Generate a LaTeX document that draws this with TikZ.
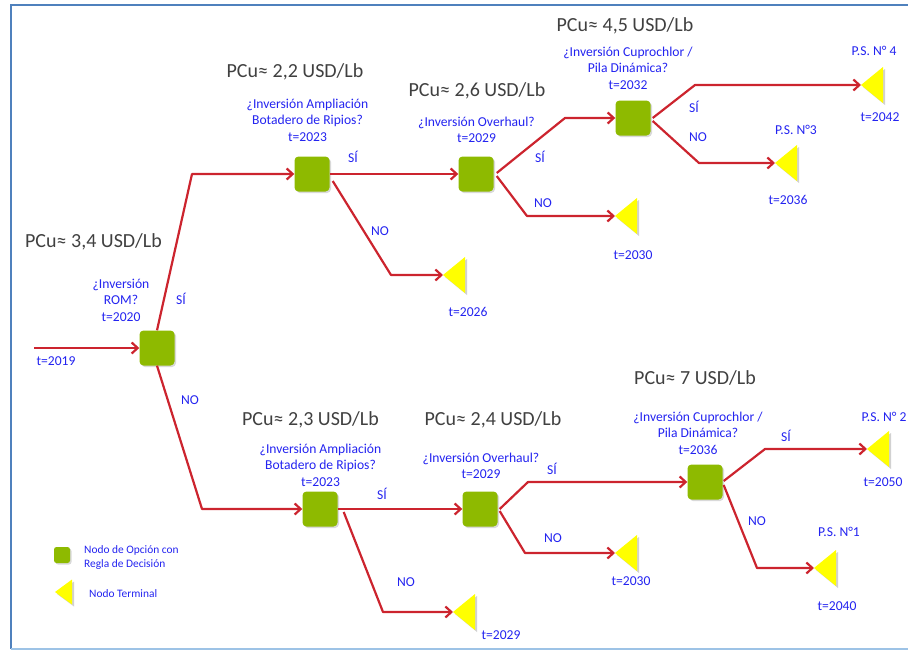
\documentclass[tikz,border=0pt]{standalone}
\usepackage{fontspec}
\setmainfont{Carlito}
\usetikzlibrary{arrows.meta,shadows,calc}
\definecolor{optgreen}{RGB}{142,186,0}
\definecolor{conred}{RGB}{204,36,46}
\definecolor{lblblue}{RGB}{35,35,240}
\definecolor{pcugray}{RGB}{64,64,64}
\definecolor{framebl}{RGB}{79,129,189}
\definecolor{framelt}{RGB}{157,195,230}
\definecolor{termyel}{RGB}{255,255,0}
\newcommand\termnode[5]{%
  \coordinate (#1) at (#2,#3);
  \fill[black,opacity=0.18] ($(#1)+(2,2)$) -- ++(#4,-#5) -- ++(0,2*#5) -- cycle;
  \fill[termyel] (#1) -- ++(#4,-#5) -- ++(0,2*#5) -- cycle;}
\begin{document}
\begin{tikzpicture}[x=1pt,y=-1pt,
  opt/.style={fill=optgreen, rounded corners=4pt, minimum size=35pt, inner sep=0pt,
    drop shadow={shadow xshift=1.5pt,shadow yshift=-1.5pt,opacity=0.3}},
  conn/.style={draw=conred, line width=2.2pt, line join=round,
    -{Straight Barb[length=6pt,width=11pt]}},
  lbl/.style={text=lblblue, font=\fontsize{13.6}{16.5}\selectfont, align=center, inner sep=0pt},
  pcu/.style={text=pcugray, font=\fontsize{20}{24}\selectfont, inner sep=0pt},
  leg/.style={text=lblblue, font=\fontsize{11.4}{13.5}\selectfont, align=left, inner sep=0pt}]
\useasboundingbox (0,0) rectangle (908,651);
% frame
\draw[framebl, line width=1.8pt] (11,649) -- (11,5) -- (908,5);
\draw[framelt, line width=1.5pt] (11,649) -- (908,649);

% option nodes
\node[opt] (d0) at (157,348) {};
\node[opt] (d1) at (312,174) {};
\node[opt] (d2) at (476,174) {};
\node[opt] (d3) at (633,118) {};
\node[opt] (d4) at (320,509) {};
\node[opt] (d5) at (480,509) {};
\node[opt] (d6) at (705,482) {};

% terminal nodes
\termnode{t42}{861}{85}{22}{18}
\termnode{t36}{775}{163}{22}{18}
\termnode{t30a}{615}{216}{22}{18}
\termnode{t26}{443}{275}{22}{18}
\termnode{t29}{453}{612}{22}{18}
\termnode{t30b}{615}{553}{22}{18}
\termnode{t50}{867}{449}{22}{18}
\termnode{t40}{814}{568}{22}{18}

% connectors
\coordinate (start) at (34,348);
\draw[conn] (start) -- (d0.west);
\draw[conn] (d0.north) -- (192,174) -- (d1.west);
\draw[conn] (d0.south) -- (202,509) -- (d4.west);
\draw[conn] (d1.east) -- (d2.west);
\draw[conn] ($(d1.east)+(3,7)$) -- (391,275) -- (t26);
\draw[conn] ($(d2.east)+(3,-1)$) -- (565,118) -- (d3.west);
\draw[conn] ($(d2.east)+(3,2)$) -- (527,216) -- (t30a);
\draw[conn] ($(d3.east)+(2,0)$) -- (695,85) -- (t42);
\draw[conn] ($(d3.east)+(2,3)$) -- (699,163) -- (t36);
\draw[conn] (d4.east) -- (d5.west);
\draw[conn] ($(d4.east)+(6,3)$) -- (383,612) -- (t29);
\draw[conn] ($(d5.east)+(2,0)$) -- (528,482) -- (d6.west);
\draw[conn] ($(d5.east)+(2,2)$) -- (525,553) -- (t30b);
\draw[conn] ($(d6.east)+(1,-1)$) -- (765,449) -- (t50);
\draw[conn] ($(d6.east)+(1,3)$) -- (757,568) -- (t40);

% price labels
\node[pcu] (p34) at (93.5,242) {PCu≈ 3,4 USD/Lb};
\node[pcu] (p22) at (295,72) {PCu≈ 2,2 USD/Lb};
\node[pcu] (p26) at (477,91) {PCu≈ 2,6 USD/Lb};
\node[pcu] (p45) at (625,26) {PCu≈ 4,5 USD/Lb};
\node[pcu] (p23) at (310.5,420) {PCu≈ 2,3 USD/Lb};
\node[pcu] (p24) at (493,420) {PCu≈ 2,4 USD/Lb};
\node[pcu] (p7) at (695,378) {PCu≈ 7 USD/Lb};

% question labels
\node[lbl] (q0) at (121,300) {¿Inversión\\ROM?\\t=2020};
\node[lbl] (q1) at (307.5,120) {¿Inversión Ampliación\\Botadero de Ripios?\\t=2023};
\node[lbl] (q2) at (476.5,130) {¿Inversión Overhaul?\\t=2029};
\node[lbl] (q3) at (628,68) {¿Inversión Cuprochlor /\\Pila Dinámica?\\t=2032};
\node[lbl] (q4) at (320.5,465) {¿Inversión Ampliación\\Botadero de Ripios?\\t=2023};
\node[lbl] (q5) at (481,466) {¿Inversión Overhaul?\\t=2029};
\node[lbl] (q6) at (698,433) {¿Inversión Cuprochlor /\\Pila Dinámica?\\t=2036};

% branch labels
\node[lbl] (l2019) at (56,361) {t=2019};
\node[lbl] (s0) at (181,299) {SÍ};
\node[lbl] (n0) at (190,400) {NO};
\node[lbl] (s1) at (353,157) {SÍ};
\node[lbl] (n1) at (380,231) {NO};
\node[lbl] (l2026) at (468,312) {t=2026};
\node[lbl] (s2) at (540,157) {SÍ};
\node[lbl] (n2) at (543,203) {NO};
\node[lbl] (l2030a) at (633,255) {t=2030};
\node[lbl] (s3) at (694,107) {SÍ};
\node[lbl] (n3) at (698,137) {NO};
\node[lbl] (ps4) at (874,51) {P.S. N° 4};
\node[lbl] (l2042) at (880,117) {t=2042};
\node[lbl] (ps3) at (796,130) {P.S. N°3};
\node[lbl] (l2036) at (788,200) {t=2036};
\node[lbl] (s4) at (382,494) {SÍ};
\node[lbl] (n4) at (406,582) {NO};
\node[lbl] (l2029) at (501,635) {t=2029};
\node[lbl] (s5) at (552,469) {SÍ};
\node[lbl] (n5) at (553,538) {NO};
\node[lbl] (l2030b) at (631,581) {t=2030};
\node[lbl] (s6) at (786,436) {SÍ};
\node[lbl] (n6) at (757,521) {NO};
\node[lbl] (ps2) at (884,417) {P.S. N° 2};
\node[lbl] (l2050) at (883,482) {t=2050};
\node[lbl] (ps1) at (839,532) {P.S. N°1};
\node[lbl] (l2040) at (837,606) {t=2040};

% legend
\node[opt, minimum size=16pt, rounded corners=2.5pt] (legopt) at (62,555) {};
\termnode{legterm}{55}{592}{17}{12.5}
\node[leg, anchor=west] (legt1) at (84,557.5) {Nodo de Opción con\\Regla de Decisión};
\node[leg, anchor=west] (legt2) at (89,594) {Nodo Terminal};
\end{tikzpicture}
\end{document}
